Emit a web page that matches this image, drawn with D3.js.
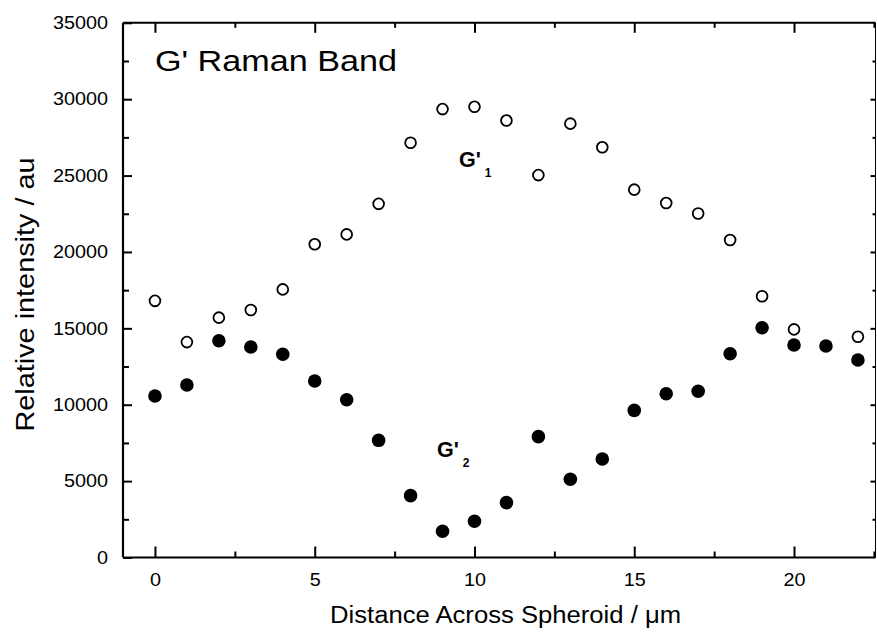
<!DOCTYPE html>
<html>
<head>
<meta charset="utf-8">
<script src="https://cdn.jsdelivr.net/npm/d3@7"></script>
<style>
  html, body { margin: 0; padding: 0; background: #fff; }
  svg { display: block; }
  text { font-family: "Liberation Sans", Arial, Helvetica, sans-serif; fill: #000; }
</style>
</head>
<body>
<svg id="chart" width="877" height="633"></svg>
<script>
// ---- Data ----
const distance = [0,1,2,3,4,5,6,7,8,9,10,11,12,13,14,15,16,17,18,19,20,21,22];
const g1Values = [16800,14100,15700,16200,17550,20500,21150,23150,27150,29350,29500,28600,25030,28400,26850,24080,23200,22520,20780,17100,14930,null,14450];
const g2Values = [10570,11290,14190,13780,13300,11550,10330,7670,4050,1720,2370,3590,7910,5120,6450,9630,10720,10880,13340,15040,13910,13840,12930];
const xMajorTicks = [0,5,10,15,20];
const xMinorTicks = [2.5,7.5,12.5,17.5,22.5];
const yMajorTicks = [0,5000,10000,15000,20000,25000,30000,35000];
const yMinorTicks = [2500,7500,12500,17500,22500,27500,32500];
const titleText = "G' Raman Band";
const xLabel = "Distance Across Spheroid / \u03BCm";
const yLabel = "Relative intensity / au";

// ---- Layout ----
const svg = d3.select("#chart");
const pLeft = 123, pRight = 875.5, pTop = 22.8, pBottom = 557.5;

const x = d3.scaleLinear().domain([-1, 22.55]).range([pLeft, pRight]);
const y = d3.scaleLinear().domain([0, 35000]).range([pBottom, pTop]);

// widen text slightly to match the reference typeface's wider set width
function stretch(sel, factor) {
  sel.each(function () {
    const w = this.getComputedTextLength();
    if (w > 0) d3.select(this).attr("textLength", w * factor).attr("lengthAdjust", "spacingAndGlyphs");
  });
}

// Frame lines
svg.append("line").attr("x1", pLeft).attr("x2", pLeft).attr("y1", pTop).attr("y2", pBottom)
  .attr("stroke", "#000").attr("stroke-width", 2.2);
svg.append("line").attr("x1", pLeft).attr("x2", pRight).attr("y1", pBottom).attr("y2", pBottom)
  .attr("stroke", "#000").attr("stroke-width", 2.2);
svg.append("line").attr("x1", pLeft).attr("x2", pRight).attr("y1", pTop).attr("y2", pTop)
  .attr("stroke", "#000").attr("stroke-width", 2);
svg.append("line").attr("x1", pRight).attr("x2", pRight).attr("y1", pTop).attr("y2", pBottom)
  .attr("stroke", "#000").attr("stroke-width", 1);

function styleAxis(g) {
  g.select(".domain").remove();
  g.selectAll(".tick line").attr("stroke", "#000").attr("stroke-width", 2);
  g.selectAll(".tick text").attr("font-size", 18).attr("fill", "#000")
    .attr("font-family", "Liberation Sans, Arial, Helvetica, sans-serif")
    .call(stretch, 1.1);
}

// Bottom axis
svg.append("g").attr("transform", `translate(0,${pBottom})`)
  .call(d3.axisBottom(x).tickValues(xMajorTicks).tickSize(-11).tickPadding(16).tickFormat(d3.format("d")))
  .call(styleAxis);
svg.append("g").attr("transform", `translate(0,${pBottom})`)
  .call(d3.axisBottom(x).tickValues(xMinorTicks).tickSize(-6).tickFormat(""))
  .call(styleAxis);
// Top axis
svg.append("g").attr("transform", `translate(0,${pTop})`)
  .call(d3.axisTop(x).tickValues(xMajorTicks).tickSize(-10).tickFormat(""))
  .call(styleAxis);
svg.append("g").attr("transform", `translate(0,${pTop})`)
  .call(d3.axisTop(x).tickValues(xMinorTicks).tickSize(-5).tickFormat(""))
  .call(styleAxis);

// Left axis
svg.append("g").attr("transform", `translate(${pLeft},0)`)
  .call(d3.axisLeft(y).tickValues(yMajorTicks).tickSize(-9).tickPadding(15).tickFormat(d3.format("d")))
  .call(styleAxis);
svg.append("g").attr("transform", `translate(${pLeft},0)`)
  .call(d3.axisLeft(y).tickValues(yMinorTicks).tickSize(-6).tickFormat(""))
  .call(styleAxis);
// Right axis
svg.append("g").attr("transform", `translate(${pRight},0)`)
  .call(d3.axisRight(y).tickValues(yMajorTicks.filter(d => d > 0 && d < 35000)).tickSize(-5).tickFormat(""))
  .call(styleAxis);
svg.append("g").attr("transform", `translate(${pRight},0)`)
  .call(d3.axisRight(y).tickValues(yMinorTicks).tickSize(-3).tickFormat(""))
  .call(styleAxis);

// Data points
const g1 = distance.map((d, i) => ({ x: d, y: g1Values[i] })).filter(p => p.y != null);
const g2 = distance.map((d, i) => ({ x: d, y: g2Values[i] })).filter(p => p.y != null);

svg.append("g").selectAll("circle").data(g1).join("circle")
  .attr("cx", d => x(d.x)).attr("cy", d => y(d.y)).attr("r", 5.4)
  .attr("fill", "#fff").attr("stroke", "#000").attr("stroke-width", 1.8);

svg.append("g").selectAll("circle").data(g2).join("circle")
  .attr("cx", d => x(d.x)).attr("cy", d => y(d.y)).attr("r", 6.8)
  .attr("fill", "#000");

// Title
svg.append("text").attr("x", 155).attr("y", 70.5).attr("font-size", 30)
  .attr("textLength", 242).attr("lengthAdjust", "spacingAndGlyphs").text(titleText);

// Series labels
function seriesLabel(px, py, sub) {
  const t = svg.append("text").attr("x", px).attr("y", py).attr("font-weight", "bold").attr("font-size", 21.5);
  t.append("tspan").text("G'");
  t.append("tspan").attr("dy", 10).attr("dx", 4).attr("font-size", 12).text(sub);
}
seriesLabel(459, 167.3, "1");
seriesLabel(437, 457, "2");

// Axis labels
svg.append("text").attr("x", 330).attr("y", 623).attr("font-size", 23)
  .attr("textLength", 351).attr("lengthAdjust", "spacingAndGlyphs").text(xLabel);
svg.append("text").attr("transform", "translate(33.5,294.5) rotate(-90)").attr("text-anchor", "middle")
  .attr("font-size", 25).attr("textLength", 274).attr("lengthAdjust", "spacingAndGlyphs").text(yLabel);
</script>
</body>
</html>
